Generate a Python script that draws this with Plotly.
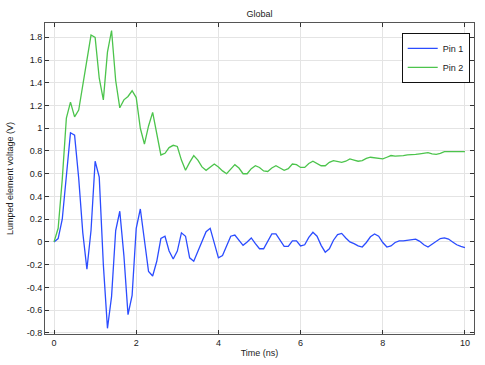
import plotly.graph_objects as go

time_ns = [round(i * 0.1, 1) for i in range(101)]

pin1 = [0.0, 0.03, 0.2, 0.6, 0.96, 0.94, 0.56, 0.08, -0.24, 0.1,
        0.71, 0.57, -0.2, -0.76, -0.48, 0.1, 0.27, -0.12, -0.64, -0.47,
        0.12, 0.29, 0.0, -0.26, -0.3, -0.17, 0.03, 0.05, -0.08, -0.15,
        -0.08, 0.08, 0.05, -0.14, -0.17, -0.08, 0.0, 0.09, 0.12, -0.02,
        -0.14, -0.12, -0.03, 0.05, 0.06, 0.01, -0.03, 0.0, 0.035, -0.015,
        -0.06, -0.06, 0.0, 0.07, 0.07, 0.01, -0.04, -0.04, 0.01, 0.01,
        -0.035, -0.025, 0.04, 0.085, 0.05, -0.03, -0.09, -0.06, 0.015, 0.065,
        0.075, 0.035, 0.0, -0.015, -0.035, -0.045, -0.005, 0.045, 0.07, 0.05,
        -0.005, -0.045, -0.035, -0.005, 0.01, 0.01, 0.015, 0.02, 0.025, 0.005,
        -0.025, -0.045, -0.02, 0.01, 0.03, 0.035, 0.025, 0.0, -0.025, -0.04,
        -0.05]

pin2 = [0.0, 0.12, 0.55, 1.09, 1.23, 1.1, 1.16, 1.38, 1.6, 1.82,
        1.8, 1.44, 1.25, 1.67, 1.86, 1.42, 1.18, 1.25, 1.28, 1.33,
        1.27, 1.0, 0.86, 1.02, 1.14, 0.96, 0.765, 0.78, 0.83, 0.85,
        0.84, 0.72, 0.63, 0.7, 0.76, 0.72, 0.66, 0.63, 0.66, 0.685,
        0.66, 0.625, 0.6, 0.64, 0.68, 0.65, 0.6, 0.6, 0.645, 0.67,
        0.655, 0.625, 0.62, 0.65, 0.67, 0.65, 0.63, 0.645, 0.685, 0.68,
        0.655, 0.655, 0.69, 0.71, 0.69, 0.67, 0.67, 0.70, 0.715, 0.71,
        0.70, 0.71, 0.73, 0.72, 0.71, 0.715, 0.735, 0.745, 0.74, 0.73,
        0.73, 0.745, 0.76, 0.755, 0.755, 0.76, 0.765, 0.765, 0.77, 0.775,
        0.78, 0.785, 0.775, 0.77, 0.78, 0.795, 0.795, 0.795, 0.79, 0.79,
        0.795]

series_names = ["Pin 1", "Pin 2"]
series_colors = ["#2b4cff", "#4cc44c"]

x_ticks = [0, 2, 4, 6, 8, 10]
y_ticks = [-0.8, -0.6, -0.4, -0.2, 0, 0.2, 0.4, 0.6, 0.8, 1, 1.2, 1.4, 1.6, 1.8]

fig = go.Figure()
for name, ys, col in zip(series_names, [pin1, pin2], series_colors):
    fig.add_trace(go.Scatter(x=time_ns, y=ys, mode="lines", name=name,
                             line=dict(color=col, width=1.3)))

font = dict(family="Liberation Sans, Arial, sans-serif", size=9, color="#222")
axis_common = dict(showline=True, linecolor="#555", linewidth=1, mirror="allticks",
                   ticks="inside", ticklen=4, tickcolor="#333", showgrid=True,
                   gridcolor="#e4e4e4", gridwidth=1, zeroline=False,
                   tickfont=font, automargin=False)

fig.update_layout(
    width=485, height=365,
    margin=dict(l=45, r=11, t=23, b=31, autoexpand=False),
    paper_bgcolor="white", plot_bgcolor="white",
    font=font,
    title=dict(text="Global", x=0.5, xanchor="center", xref="paper",
               y=1 - 14 / 365, yref="container", yanchor="middle",
               font=dict(size=9, color="#222")),
    showlegend=True,
    legend=dict(x=0.99, y=0.968, xanchor="right", yanchor="top",
                bgcolor="white", bordercolor="#111", borderwidth=1,
                font=dict(size=9, color="#222"), tracegroupgap=0,
                itemwidth=30),
)
fig.update_xaxes(range=[-0.22, 10.22], tickvals=x_ticks,
                 ticktext=[str(v) for v in x_ticks],
                 title=dict(text="Time (ns)", font=font, standoff=2), **axis_common)
fig.update_yaxes(range=[-0.81, 1.926], tickvals=y_ticks,
                 ticktext=[("%g" % v) for v in y_ticks],
                 title=dict(text="Lumped element voltage (V)", font=font, standoff=11),
                 **axis_common)

fig.write_html("out.html", config={"displayModeBar": False},
               post_script="document.body.style.margin='0';document.body.style.overflow='hidden';")
